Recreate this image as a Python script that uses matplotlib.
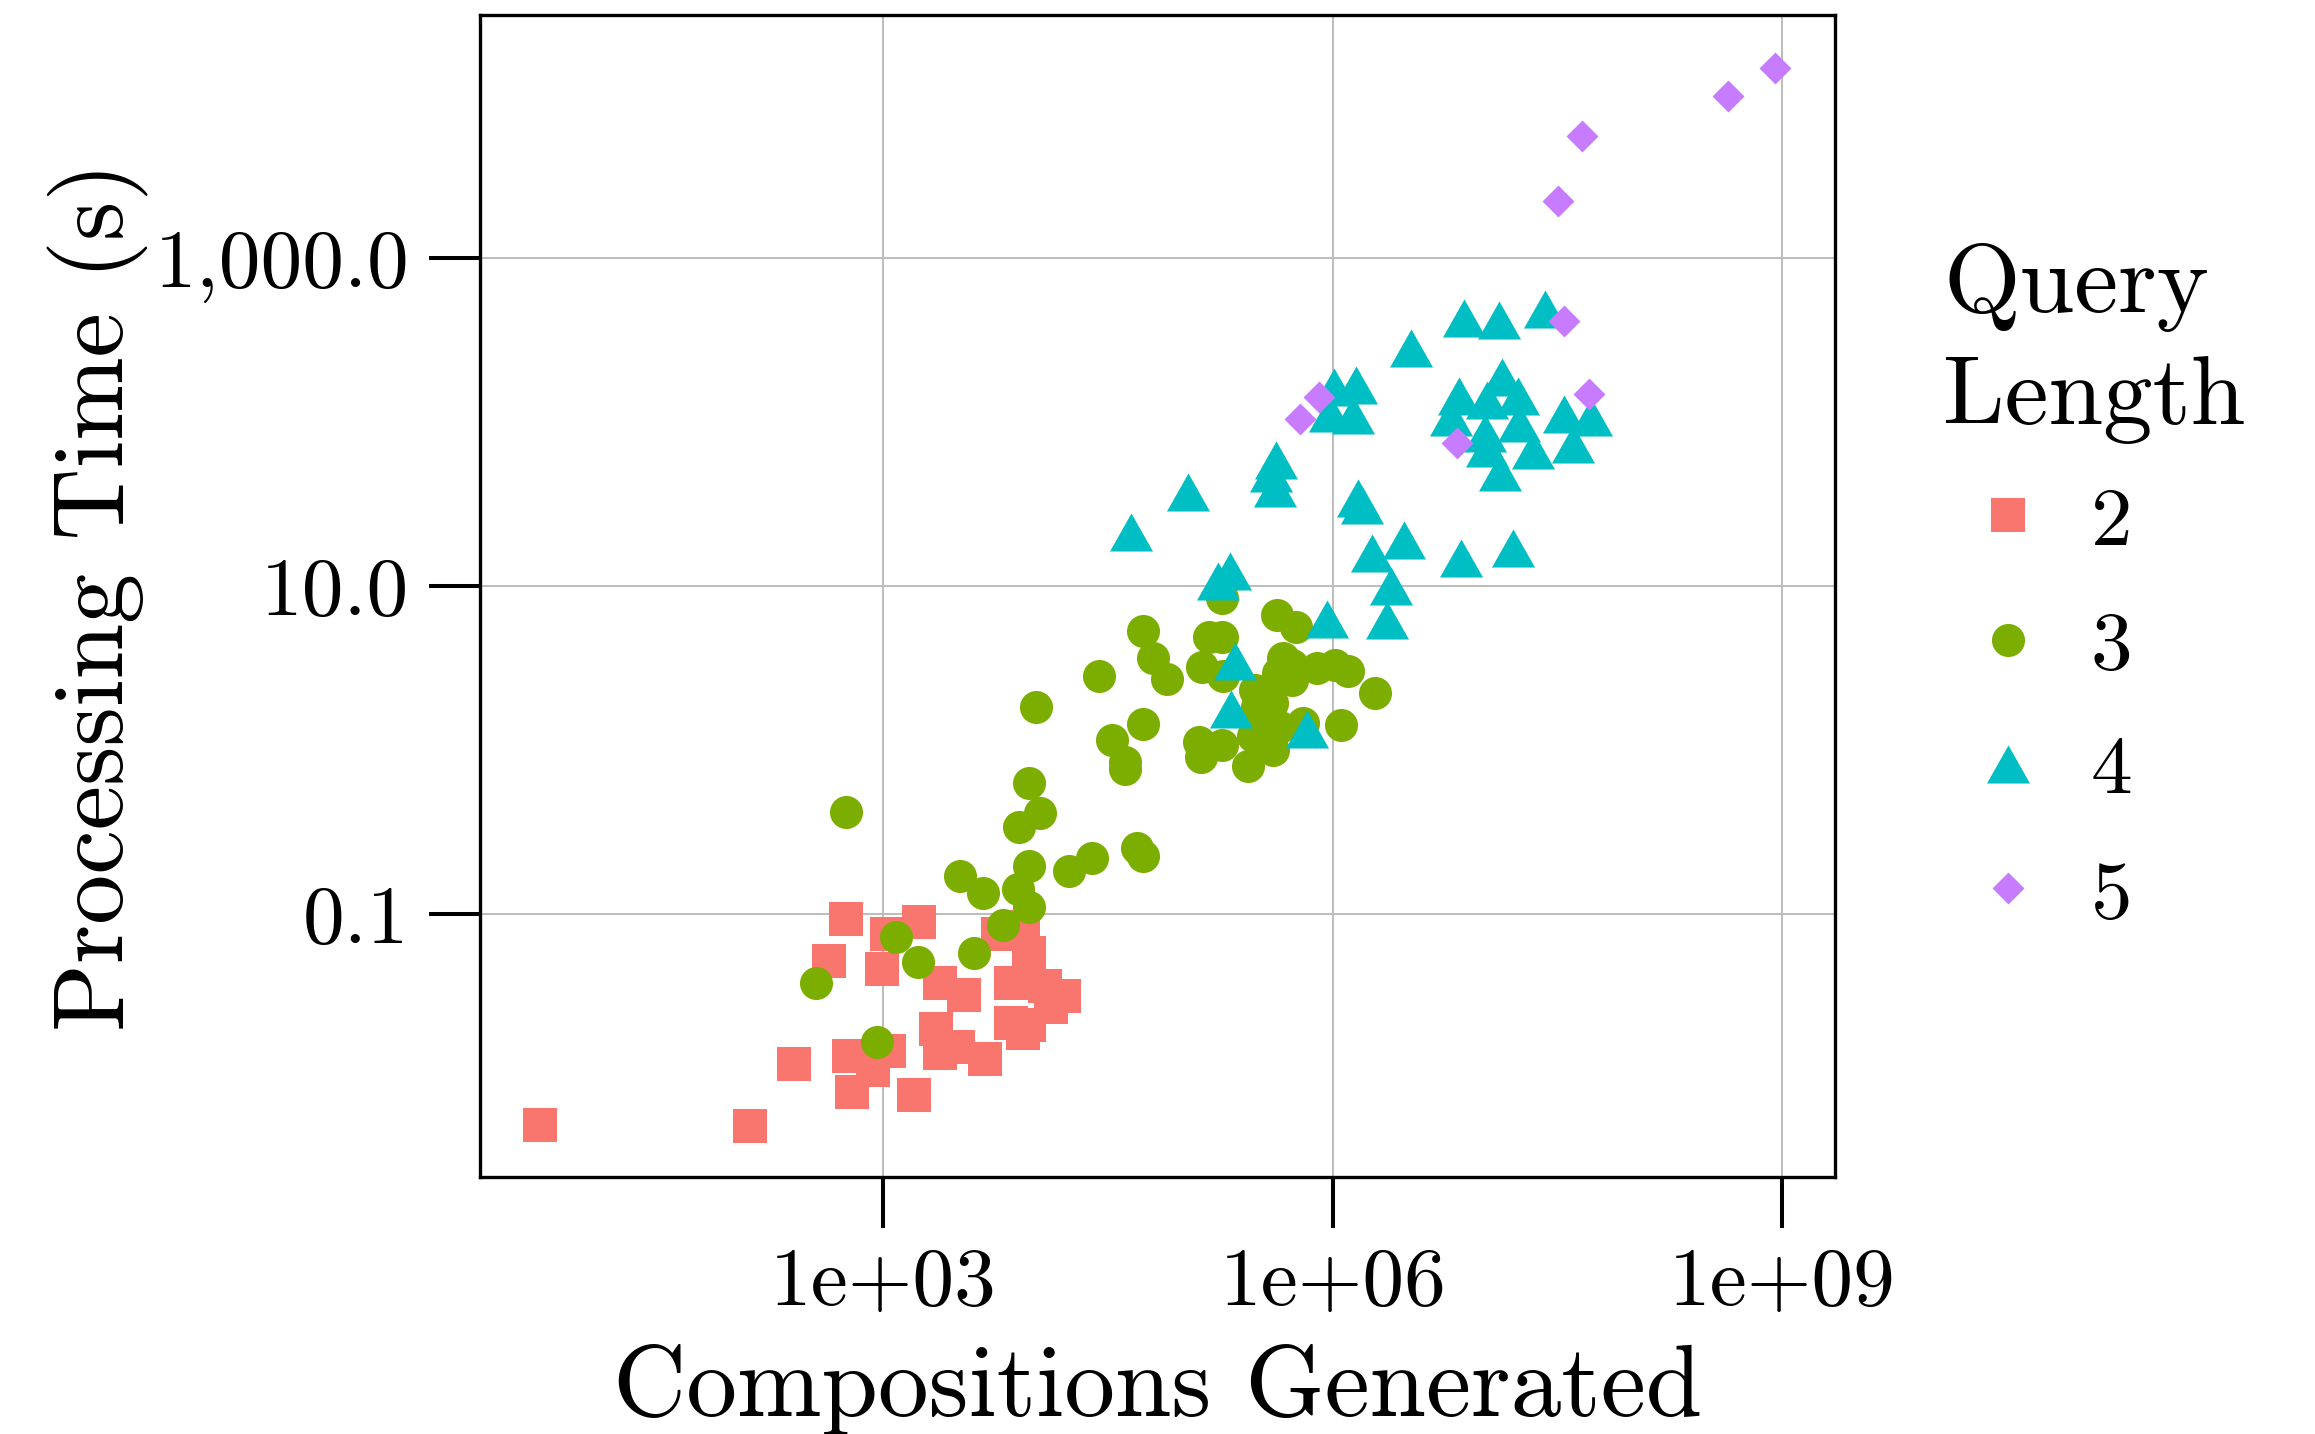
import numpy as np
import matplotlib
matplotlib.use("Agg")
import matplotlib.pyplot as plt
from matplotlib.path import Path
from matplotlib.lines import Line2D
from matplotlib.ticker import FixedLocator, FixedFormatter, NullLocator

plt.rcParams['font.family'] = 'cmr10'
plt.rcParams['axes.formatter.use_mathtext'] = True

# query length 2
comp_q2 = [5.1, 129, 560, 432, 1060, 1720, 977, 5850, 8530, 9380, 2380, 3440, 7060,
           12000, 16000, 13200, 7060, 9380, 8530, 2240, 2400, 3130, 4790, 1590, 254,
           585, 1090, 851, 618]
time_q2 = [0.00516, 0.00509, 0.0935, 0.0516, 0.0759, 0.0897, 0.0462, 0.0759, 0.0837,
           0.0578, 0.0378, 0.0321, 0.0379, 0.0364, 0.0316, 0.0272, 0.0216, 0.0210,
           0.0187, 0.0199, 0.0141, 0.0155, 0.0131, 0.00787, 0.0122, 0.0137, 0.0145,
           0.0112, 0.00826]

# query length 3
comp_q3 = [562, 10500, 27600, 54300, 63400, 77800, 135000, 149000, 181000, 181000,
           53800, 33400, 41000, 41000, 128000, 131000, 181000, 9420, 11100, 8000,
           9420, 3260, 4620, 7940, 9420, 17300, 24800, 49600, 54300, 6250, 4040,
           1690, 1220, 352, 906, 184000, 423000, 569000, 463000, 532000, 434000,
           782000, 1035000, 1271000, 1914000, 1130000, 532000, 303000, 311000,
           391000, 445000, 635000, 311000, 270000, 397000, 294000]
time_q3 = [0.417, 1.84, 2.81, 5.32, 3.62, 2.70, 3.19, 4.91, 4.91, 8.41,
           1.44, 1.15, 0.849, 0.762, 1.12, 0.902, 1.08, 0.630, 0.411, 0.339,
           0.196, 0.170, 0.134, 0.141, 0.110, 0.182, 0.219, 0.254, 0.226, 0.0857,
           0.0575, 0.0513, 0.0728, 0.0378, 0.0166, 2.82, 6.65, 5.65, 3.62, 3.30,
           2.94, 3.15, 3.30, 3.03, 2.23, 1.42, 2.67, 2.32, 1.84, 1.93, 1.39, 1.46,
           1.52, 0.802, 1.00, 1.21]

# query length 4
comp_q4 = [45000, 108000, 420000, 387000, 409000, 1019000, 1422000, 959000, 1358000,
           3330000, 7550000, 12900000, 26100000, 7000000, 13400000, 17300000,
           10700000, 6170000, 10400000, 17600000, 10700000, 21600000, 13100000,
           35200000, 53100000, 40000000, 1470000, 1580000, 3010000, 1820000,
           7180000, 15900000, 207000, 171000, 2450000, 2310000, 912000, 222000,
           209000, 670000]
time_q4 = [21.2, 37.2, 58.6, 48.6, 39.4, 164, 169, 114, 111, 281, 433, 419, 489,
           144, 187, 145, 136, 108, 85.3, 98.2, 69.2, 67.5, 49.5, 112, 107, 73.1,
           34.3, 31.2, 19.1, 16.0, 14.8, 17.0, 12.3, 10.7, 10.0, 6.21, 6.27, 3.51,
           1.77, 1.34]

# query length 5
comp_q5 = [893000000, 437000000, 45900000, 31900000, 34800000, 51400000, 6730000,
           604000, 813000]
time_q5 = [14450, 9730, 5550, 2230, 413, 148, 74.1, 105, 143]

series_labels = ['2', '3', '4', '5']
series_colors = ['#F8766D', '#7CAE00', '#00BFC4', '#C77CFF']

x_ticks = [1e3, 1e6, 1e9]
x_tick_labels = ['1e+03', '1e+06', '1e+09']
y_ticks = [0.1, 10, 1000]
y_tick_labels = ['0.1', '10.0', '1,000.0']

tri = Path([(0, 19), (-21.5, -19), (21.5, -19), (0, 19)],
           [Path.MOVETO, Path.LINETO, Path.LINETO, Path.CLOSEPOLY])
dia = Path([(0, 1), (1, 0), (0, -1), (-1, 0), (0, 1)],
           [Path.MOVETO, Path.LINETO, Path.LINETO, Path.LINETO, Path.CLOSEPOLY])
markers = ['s', 'o', tri, dia]
sizes = [11.9, 11.9, 15.5, 11.5]

fig = plt.figure(figsize=(2315 / 200, 1434 / 200), dpi=200)
ax = fig.add_axes([480 / 2315, 1 - 1177 / 1434, 1355 / 2315, 1162 / 1434])

data = [(comp_q2, time_q2), (comp_q3, time_q3), (comp_q4, time_q4), (comp_q5, time_q5)]
for (xs, ys), m, c, s in zip(data, markers, series_colors, sizes):
    ax.plot(xs, ys, ls='none', marker=m, ms=s, color=c, mew=0, zorder=3)

ax.set_xscale('log')
ax.set_yscale('log')
ax.set_xlim(10 ** 0.306, 10 ** 9.354)
ax.set_ylim(10 ** -2.604, 10 ** 4.482)

ax.xaxis.set_major_locator(FixedLocator(x_ticks))
ax.xaxis.set_major_formatter(FixedFormatter(x_tick_labels))
ax.yaxis.set_major_locator(FixedLocator(y_ticks))
ax.yaxis.set_major_formatter(FixedFormatter(y_tick_labels))
ax.xaxis.set_minor_locator(NullLocator())
ax.yaxis.set_minor_locator(NullLocator())

ax.grid(True, color='#bdbdbd', lw=0.7)
ax.set_axisbelow(True)
for sp in ax.spines.values():
    sp.set_linewidth(1.2)
ax.tick_params(length=18.4, width=1.45, labelsize=30, pad=7, color='black')

ax.set_xlabel('Compositions Generated', fontsize=36.5, labelpad=8.5)
ax.set_ylabel('Processing Time (s)', fontsize=36, labelpad=2.5)

handles = [Line2D([], [], ls='none', marker=m, ms=s, color=c, mew=0)
           for m, c, s in zip(markers, series_colors, sizes)]
leg = fig.legend(handles, series_labels, title='Query\nLength', loc='upper left',
                 bbox_to_anchor=(1943 / 2315, 1 - 243 / 1434), frameon=False,
                 fontsize=30, title_fontsize=35.5, borderpad=0, borderaxespad=0,
                 handlelength=1.55, handletextpad=0.22, labelspacing=0.6,
                 alignment='left')
leg.get_title().set_linespacing(1.35)
# a little less room between the title and the first key
leg._legend_box.sep = 15.3

fig.savefig('out.png', dpi=200)
